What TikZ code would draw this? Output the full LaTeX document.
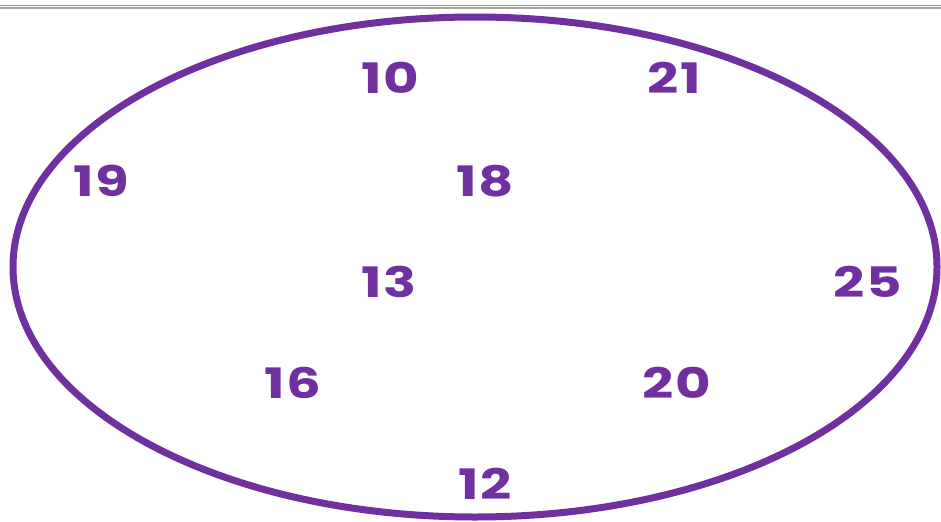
\documentclass[tikz,border=0pt]{standalone}
\usepackage{fontspec}
\setmainfont{Poppins}
\newfontfamily\numfont{Poppins}[FakeStretch=1.3, LetterSpace=4]
\usetikzlibrary{positioning, shapes.geometric}
\definecolor{setpurple}{HTML}{7030A0}
\definecolor{rulesteel}{HTML}{7F9DB9}
\definecolor{rulegray}{HTML}{A6A6A6}

\begin{document}
\begin{tikzpicture}[x=0.5pt,y=0.5pt,
    num/.style={text=setpurple, font=\numfont\fontsize{21}{24}\selectfont\bfseries, inner sep=0pt}]
        \useasboundingbox (0,0) rectangle (941,521);
        % rule along the top
        \draw[rulesteel, line width=0.8pt] (0,515.5) -- (941,515.5);
        \draw[rulegray, line width=0.8pt] (0,513) -- (941,513);
        % the set
        \node[draw=setpurple, line width=3.5pt, ellipse, minimum width=462pt, minimum height=250pt,
          inner sep=0pt] (set) at (475,254) {};
        \foreach \v/\x/\y in {10/390/443, 21/674/443, 19/101/340, 18/485/340, 13/389/239,
            25/868/239, 16/293/138, 20/677/138, 12/485/37} {
          \node[num] (n\v) at (\x,\y) {\v};
        }
      \end{tikzpicture}
\end{document}
